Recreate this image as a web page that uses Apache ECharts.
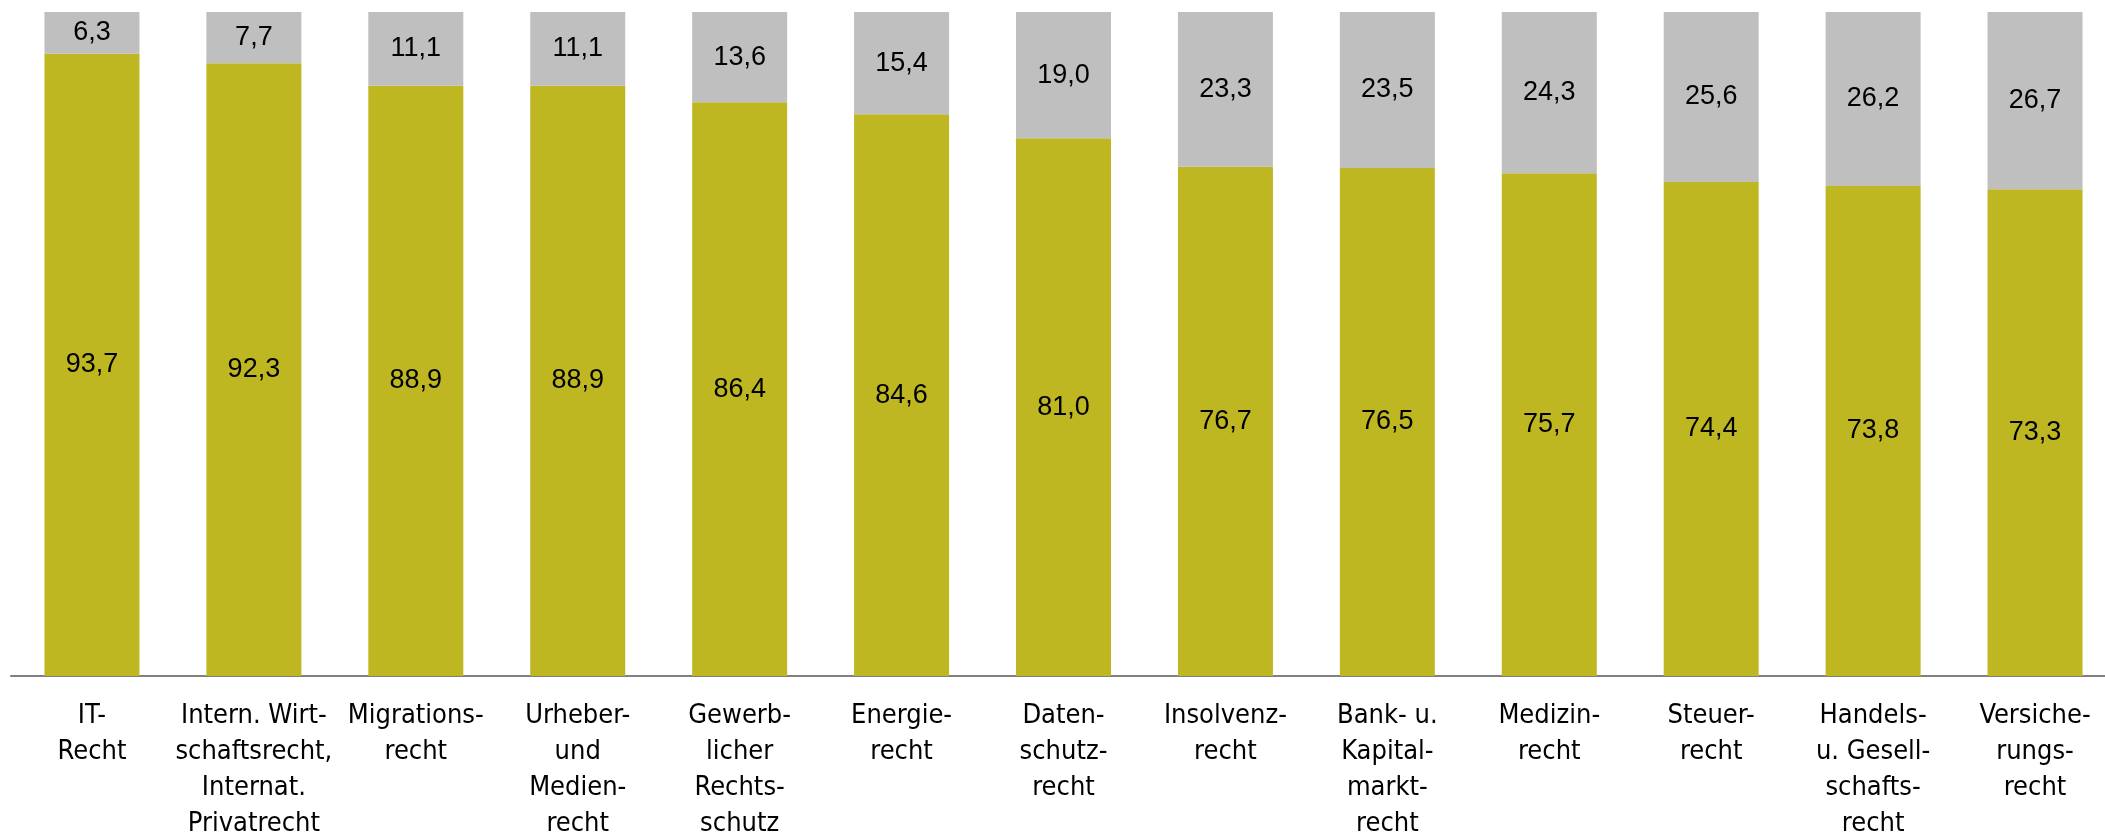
<!DOCTYPE html>
<html>
<head>
<meta charset="utf-8">
<script src="https://cdn.jsdelivr.net/npm/echarts@6/dist/echarts.min.js"></script>
<style>
html,body{margin:0;padding:0;background:#fff;}
#chart{width:2105px;height:835px;}
</style>
</head>
<body>
<div id="chart"></div>
<script>
const categories = [
  "IT-\nRecht",
  "Intern. Wirt-\nschaftsrecht,\nInternat.\nPrivatrecht",
  "Migrations-\nrecht",
  "Urheber-\nund\nMedien-\nrecht",
  "Gewerb-\nlicher\nRechts-\nschutz",
  "Energie-\nrecht",
  "Daten-\nschutz-\nrecht",
  "Insolvenz-\nrecht",
  "Bank- u.\nKapital-\nmarkt-\nrecht",
  "Medizin-\nrecht",
  "Steuer-\nrecht",
  "Handels-\nu. Gesell-\nschafts-\nrecht",
  "Versiche-\nrungs-\nrecht"
];
const valuesMain = [93.7, 92.3, 88.9, 88.9, 86.4, 84.6, 81.0, 76.7, 76.5, 75.7, 74.4, 73.8, 73.3];
const valuesRest = [6.3, 7.7, 11.1, 11.1, 13.6, 15.4, 19.0, 23.3, 23.5, 24.3, 25.6, 26.2, 26.7];

const fmt = p => p.value.toFixed(1).replace('.', ',');
const labelStyle = {
  show: true, position: 'inside', formatter: fmt,
  color: '#000', fontSize: 27, fontFamily: '"Liberation Sans", Arial, sans-serif'
};

const chart = echarts.init(document.getElementById('chart'), null, {renderer: 'canvas'});
chart.setOption({
  animation: false,
  grid: {left: 11, right: -11, top: 12, bottom: 159, containLabel: false, outerBoundsMode: 'none'},
  xAxis: {
    type: 'category',
    data: categories,
    axisLine: {lineStyle: {color: '#808080', width: 2}},
    axisTick: {show: false},
    axisLabel: {
      interval: 0, margin: 22, color: '#000', fontSize: 27, lineHeight: 36,
      fontFamily: '"Liberation Sans Narrow", "DejaVu Sans Condensed", Arial, sans-serif'
    }
  },
  yAxis: {
    type: 'value', min: 0, max: 100, show: false,
    splitLine: {show: false}
  },
  series: [
    {
      type: 'bar', stack: 'total', data: valuesMain, barWidth: 95,
      itemStyle: {color: '#BEB722'}, label: labelStyle
    },
    {
      type: 'bar', stack: 'total', data: valuesRest, barWidth: 95,
      itemStyle: {color: '#BFBFBF'}, label: labelStyle
    }
  ]
});
</script>
</body>
</html>
